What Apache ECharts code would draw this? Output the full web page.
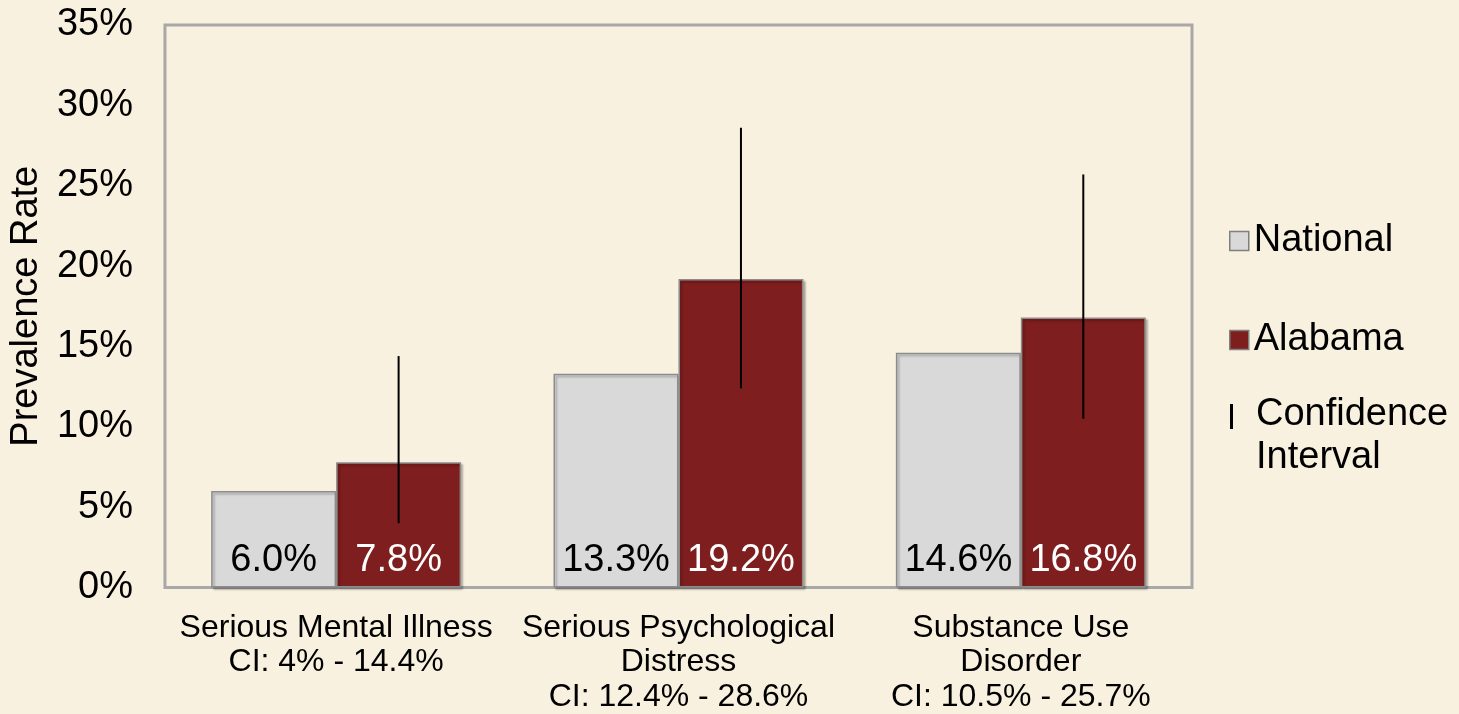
<!DOCTYPE html>
<html>
<head>
<meta charset="utf-8">
<script src="https://cdn.jsdelivr.net/npm/echarts@6/dist/echarts.min.js"></script>
<style>
html,body{margin:0;padding:0;background:#F9F1DF;}
#chart{width:1459px;height:714px;}
</style>
</head>
<body>
<div id="chart"></div>
<script>
const categories = ['Serious Mental Illness\nCI: 4% - 14.4%', 'Serious Psychological\nDistress\nCI: 12.4% - 28.6%', 'Substance Use\nDisorder\nCI: 10.5% - 25.7%'];
const nationalValues = [6.0, 13.3, 14.6];
const alabamaValues = [7.8, 19.2, 16.8];
const ciLow = [4.0, 12.4, 10.5];
const ciHigh = [14.4, 28.6, 25.7];
const yTicks = [0, 5, 10, 15, 20, 25, 30, 35];

const FONT = 'Liberation Sans, Arial, sans-serif';
const CAT_GAP = 0.27;
const chart = echarts.init(document.getElementById('chart'));
const ciData = categories.map((c, i) => [i, ciLow[i], ciHigh[i]]);

chart.setOption({
  backgroundColor: '#F9F1DF',
  animation: false,
  textStyle: { fontFamily: FONT },
  grid: {
    left: 164, top: 25, right: 267, bottom: 125,
    show: true, borderColor: '#A8A8A8', borderWidth: 3, backgroundColor: 'transparent'
  },
  legend: [
    {
      orient: 'vertical', left: 1229, top: 221, itemGap: 59, padding: 0,
      itemWidth: 19, itemHeight: 19,
      textStyle: { fontSize: 38, color: '#000', fontFamily: FONT, lineHeight: 40 },
      data: [
        { name: 'National', icon: 'rect', itemStyle: { color: '#D9D9D9', borderColor: '#808080', borderWidth: 1.5 } },
        { name: 'Alabama', icon: 'rect', itemStyle: { color: '#7E1E1E', borderColor: '#808080', borderWidth: 1.5 } }
      ]
    },
    {
      orient: 'vertical', left: 1229, top: 393, padding: 0,
      itemWidth: 22, itemHeight: 86,
      textStyle: { fontSize: 38, color: '#000', fontFamily: FONT, lineHeight: 43 },
      formatter: () => 'Confidence\nInterval',
      data: [
        { name: 'Confidence Interval', icon: 'path://M1,11L4,11L4,36L1,36Z M0,0L0,0 M22,86L22,86', itemStyle: { color: '#000', borderWidth: 0 } }
      ]
    }
  ],
  xAxis: {
    type: 'category',
    data: categories,
    axisLine: { show: false },
    axisTick: { show: false },
    axisLabel: { interval: 0, fontSize: 32, lineHeight: 34.5, color: '#000', margin: 23, fontFamily: FONT }
  },
  yAxis: {
    type: 'value',
    min: yTicks[0], max: yTicks[yTicks.length - 1], interval: 5,
    name: 'Prevalence Rate',
    nameLocation: 'middle',
    nameGap: 115,
    nameTextStyle: { fontSize: 38, color: '#000', fontFamily: FONT },
    axisLine: { show: false },
    axisTick: { show: false },
    splitLine: { show: false },
    axisLabel: { formatter: '{value}%', fontSize: 38, color: '#000', margin: 32, fontFamily: FONT }
  },
  series: [
    {
      name: 'National', type: 'bar', data: nationalValues,
      barGap: '0%', barCategoryGap: (CAT_GAP * 100) + '%',
      itemStyle: { color: '#D9D9D9', borderColor: '#8C8C8C', borderWidth: 1.5, shadowColor: 'rgba(0,0,0,0.25)', shadowOffsetX: 2, shadowOffsetY: 2, shadowBlur: 2 },
      label: { show: true, position: 'insideBottom', distance: 8, fontSize: 38, color: '#000', fontFamily: FONT, formatter: p => p.value.toFixed(1) + '%' }
    },
    {
      name: 'Alabama', type: 'bar', data: alabamaValues,
      barGap: '0%', barCategoryGap: (CAT_GAP * 100) + '%',
      itemStyle: { color: '#7E1E1E', borderColor: '#8C8C8C', borderWidth: 1.5, shadowColor: 'rgba(0,0,0,0.25)', shadowOffsetX: 2, shadowOffsetY: 2, shadowBlur: 2 },
      label: { show: true, position: 'insideBottom', distance: 8, fontSize: 38, color: '#fff', fontFamily: FONT, formatter: p => p.value.toFixed(1) + '%' }
    },
    {
      name: 'Confidence Interval', type: 'custom', data: ciData, z: 10,
      encode: { x: 0, y: [1, 2] },
      renderItem: (params, api) => {
        const band = api.size([1, 0])[0];
        const off = band * (1 - CAT_GAP) / 4;
        const lo = api.coord([api.value(0), api.value(1)]);
        const hi = api.coord([api.value(0), api.value(2)]);
        return {
          type: 'line',
          shape: { x1: lo[0] + off, y1: lo[1], x2: hi[0] + off, y2: hi[1] },
          style: { stroke: '#000', lineWidth: 2 }
        };
      }
    }
  ]
});
</script>
</body>
</html>
